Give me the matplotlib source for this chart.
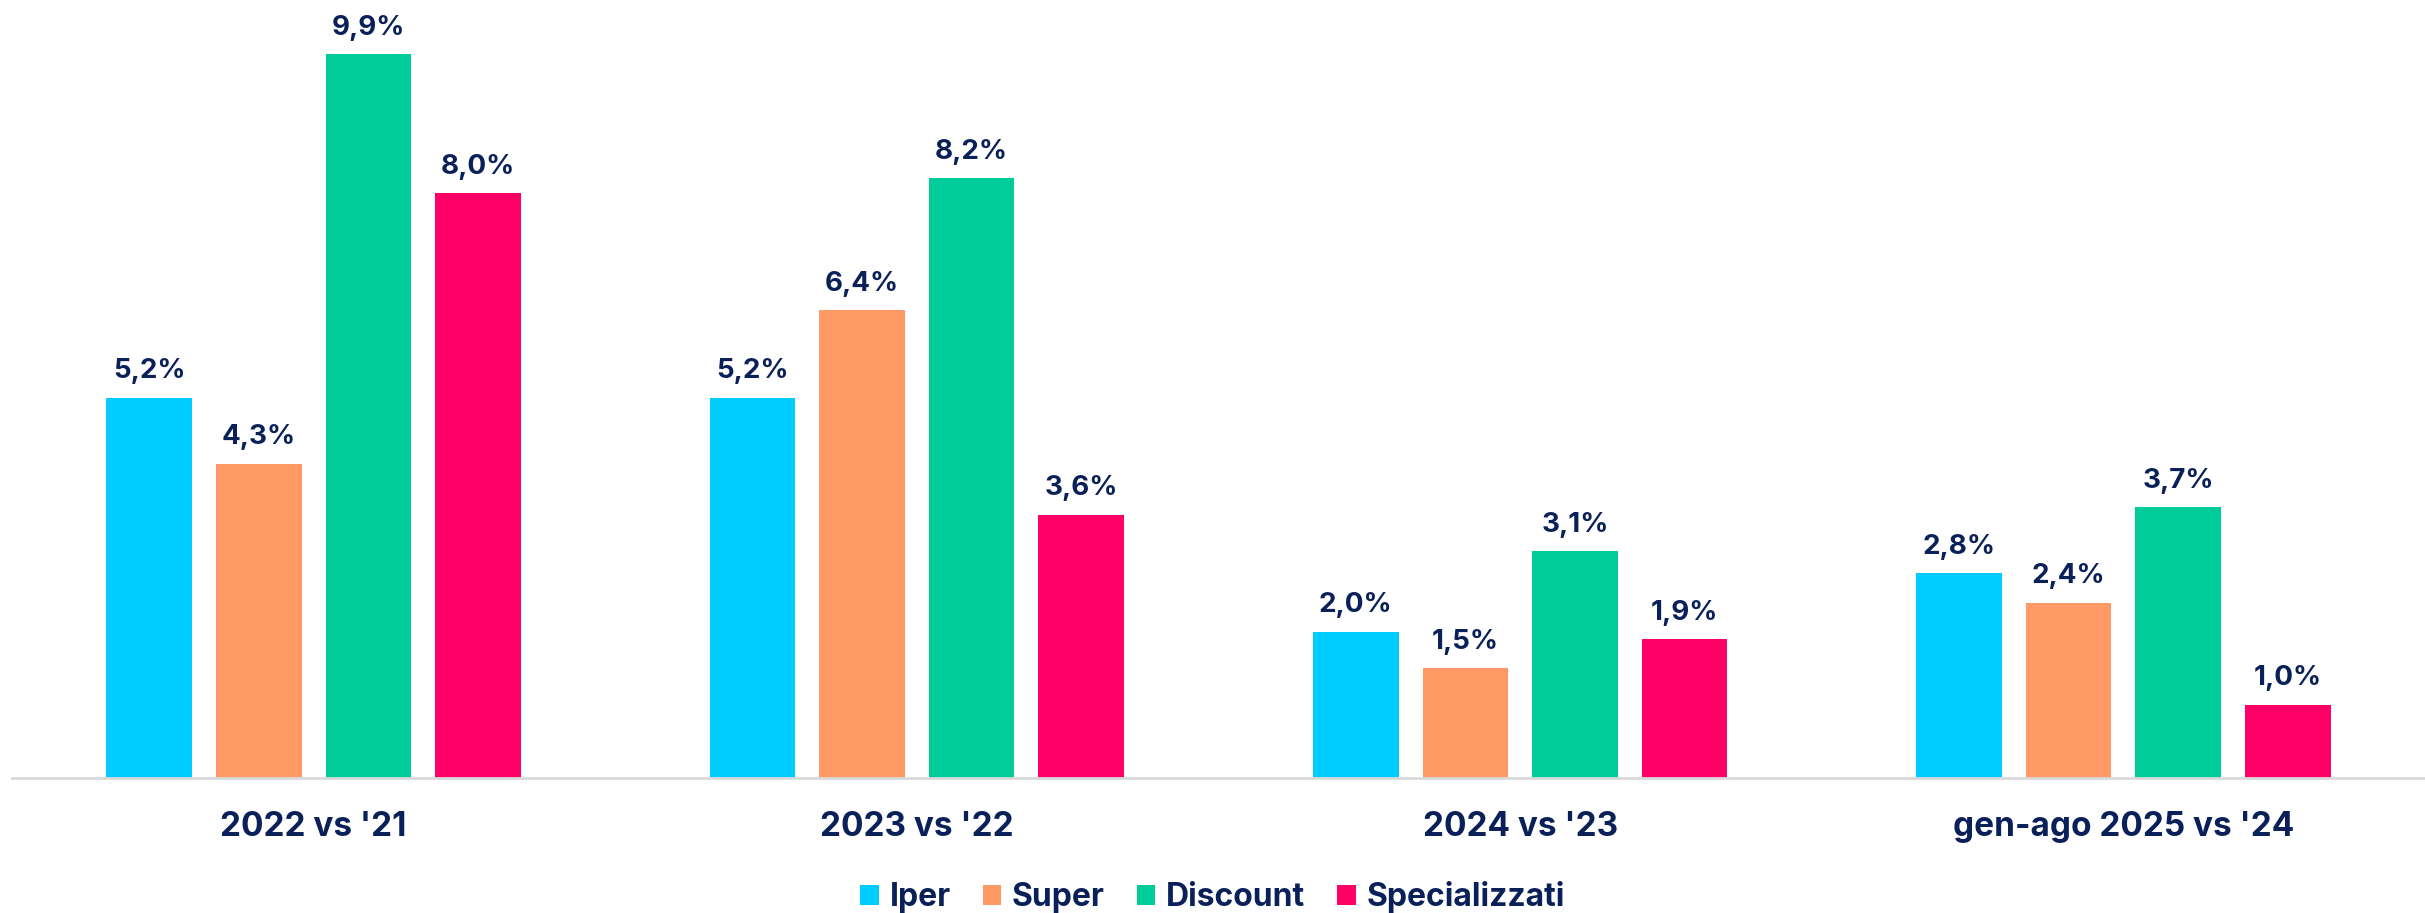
import numpy as np
import matplotlib
matplotlib.use("Agg")
import matplotlib.pyplot as plt
from matplotlib.patches import Patch

# ---- data ----
categories = ["2022 vs '21", "2023 vs '22", "2024 vs '23", "gen-ago 2025 vs '24"]
series_names = ["Iper", "Super", "Discount", "Specializzati"]
iper = [5.2, 5.2, 2.0, 2.8]
super_ = [4.3, 6.4, 1.5, 2.4]
discount = [9.9, 8.2, 3.1, 3.7]
specializzati = [8.0, 3.6, 1.9, 1.0]
colors = ["#00CCFF", "#FF9966", "#00CC99", "#FF0066"]
NAVY = "#0A2059"

plt.rcParams["font.family"] = ["Inter", "DejaVu Sans"]
plt.rcParams["font.weight"] = "bold"

fig = plt.figure(figsize=(24.25, 9.13), dpi=100)
ax = fig.add_axes([12 / 2425, 1 - 778 / 913, 1 - 12 / 2425, 775 / 913])

x = np.arange(len(categories))
pitch = 0.1816
width = 0.142
all_series = [iper, super_, discount, specializzati]

for i, (vals, col) in enumerate(zip(all_series, colors)):
    pos = x + (i - 1.5) * pitch
    bars = ax.bar(pos, vals, width=width, color=col, edgecolor="none", zorder=2)
    for b, v in zip(bars, vals):
        ax.annotate(f"{v:.1f}%".replace(".", ","),
                    (b.get_x() + b.get_width() / 2, v),
                    xytext=(0, 14), textcoords="offset points",
                    ha="center", va="baseline", fontsize=20,
                    fontweight="bold", color=NAVY)

ax.set_xlim(-0.5, 3.5)
ax.set_ylim(0, 10.6)
ax.set_yticks([])
ax.set_xticks(x)
ax.set_xticklabels(categories, fontsize=24, fontweight="bold", color=NAVY)
ax.tick_params(axis="x", length=0, pad=24)
for s in ["top", "right", "left"]:
    ax.spines[s].set_visible(False)
ax.spines["bottom"].set_color("#D9D9D9")
ax.spines["bottom"].set_linewidth(2)

handles = [Patch(facecolor=c, edgecolor="none", label=n) for c, n in zip(colors, series_names)]
leg = fig.legend(handles=handles, loc="center", bbox_to_anchor=(0.5, 1 - 897 / 913),
                 ncol=4, frameon=False, fontsize=23, handlelength=0.58, handleheight=0.58,
                 handletextpad=0.34, columnspacing=1.0)
for t in leg.get_texts():
    t.set_color(NAVY)
    t.set_fontweight("bold")

fig.savefig("out.png", dpi=100)
